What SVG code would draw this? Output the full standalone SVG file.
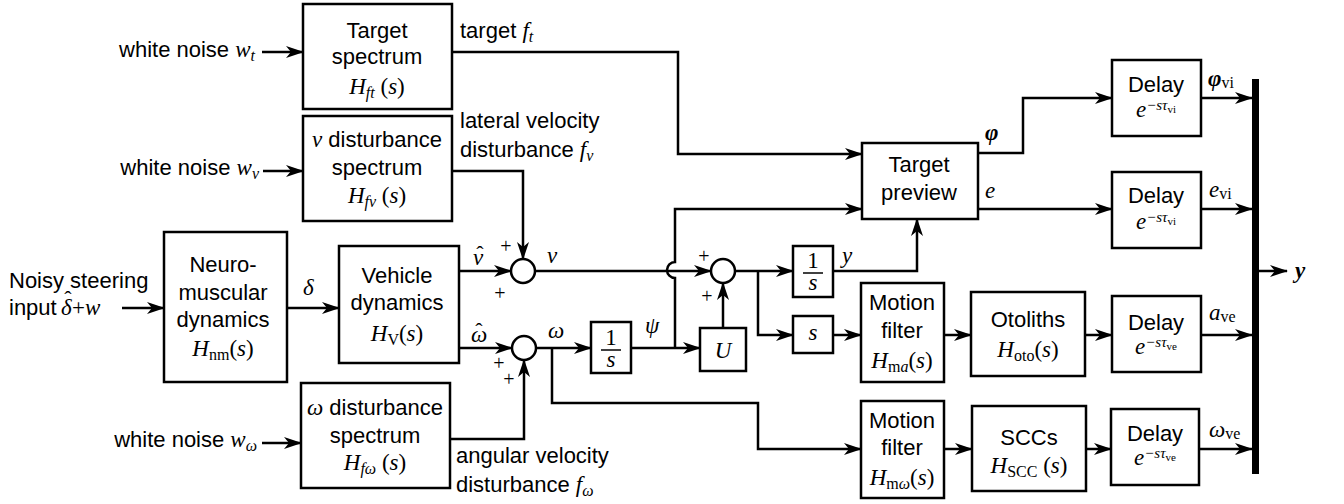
<svg xmlns="http://www.w3.org/2000/svg" width="1344" height="504" viewBox="0 0 1344 504">
<style>
.box{fill:#fff;stroke:#000;stroke-width:2.5}
.ln{fill:none;stroke:#000;stroke-width:2.5;marker-end:url(#ah)}
.pl{fill:none;stroke:#000;stroke-width:2.5}
.t{font-family:"Liberation Sans",Arial,sans-serif;font-size:22px;fill:#000}
.m{font-family:"Liberation Serif","Times New Roman",serif;font-size:23px;font-style:italic;fill:#000}
.r{font-style:normal}
.s{font-size:16px}
.sp{font-size:15px}
.ss{font-size:11px;font-style:normal}
.p{font-family:"Liberation Serif","Times New Roman",serif;font-size:20px;fill:#000}
.hat{font-family:"Liberation Serif","Times New Roman",serif;font-size:22px;fill:#000;text-anchor:middle}
.c{text-anchor:middle}
.b{font-weight:bold}
</style>
<defs>
<marker id="ah" viewBox="0 0 18 12" refX="17" refY="6" markerWidth="18" markerHeight="12" orient="auto" markerUnits="userSpaceOnUse">
<path d="M0,0 L18,6 L0,12 L5,6 z" fill="#000"/>
</marker>
</defs>

<g id="connectors">
<line class="ln" x1="262" y1="52" x2="303" y2="52"/>
<line class="ln" x1="263" y1="171" x2="303" y2="171"/>
<line class="ln" x1="122" y1="308" x2="164" y2="308"/>
<line class="ln" x1="262" y1="443" x2="301" y2="443"/>
<line class="ln" x1="287" y1="308" x2="339" y2="308"/>
<line class="ln" x1="459" y1="271" x2="511" y2="271"/>
<path class="ln" d="M452,171 H523 V259"/>
<line class="ln" x1="459" y1="348" x2="512" y2="348"/>
<path class="ln" d="M450,439 H524 V360"/>
<path class="ln" d="M535,271 H711"/>
<line class="ln" x1="536" y1="348" x2="591" y2="348"/>
<path class="ln" d="M552,348 V403 H758 V449 H861"/>
<line class="ln" x1="631" y1="348" x2="700" y2="348"/>
<path class="ln" d="M675,348 V278 A8,8 0 0 1 675,262 V209 H862"/>
<line class="ln" x1="723" y1="328" x2="723" y2="283"/>
<path class="ln" d="M452,52 H678 V154 H862"/>
<path class="ln" d="M735,271 H793"/>
<path class="ln" d="M758,271 V335 H793"/>
<path class="ln" d="M833,271 H917 V219"/>
<line class="ln" x1="833" y1="335" x2="861" y2="335"/>
<line class="ln" x1="944" y1="335" x2="971" y2="335"/>
<line class="ln" x1="1085" y1="335" x2="1112" y2="335"/>
<line class="ln" x1="1201" y1="335" x2="1252" y2="335"/>
<path class="ln" d="M978,153 H1023 V98 H1112"/>
<line class="ln" x1="978" y1="209" x2="1112" y2="209"/>
<line class="ln" x1="1201" y1="98" x2="1252" y2="98"/>
<line class="ln" x1="1201" y1="209" x2="1252" y2="209"/>
<line class="ln" x1="944" y1="449" x2="972" y2="449"/>
<line class="ln" x1="1086" y1="449" x2="1111" y2="449"/>
<line class="ln" x1="1199" y1="449" x2="1252" y2="449"/>
<line class="ln" x1="1259" y1="271" x2="1287" y2="271"/>
</g>

<g id="labels">
<text class="t" x="255" y="57" text-anchor="end">white noise <tspan class="m">w</tspan><tspan class="m s" dy="4">t</tspan></text>
<text class="t" x="259" y="175" text-anchor="end">white noise <tspan class="m">w</tspan><tspan class="m s" dy="4">v</tspan></text>
<text class="t" x="257" y="447" text-anchor="end">white noise <tspan class="m">w</tspan><tspan class="m s" dy="4">ω</tspan></text>
<text class="t" x="9" y="288">Noisy steering</text>
<text class="t" x="9" y="315">input<tspan class="m" x="61">δ</tspan><tspan class="m r" x="72">+</tspan><tspan class="m" x="85">w</tspan></text>
<text class="hat" x="68" y="306">ˆ</text>
<text class="t" x="460" y="38">target <tspan class="m">f</tspan><tspan class="m s" dy="4">t</tspan></text>
<text class="t" x="460" y="128">lateral velocity</text>
<text class="t" x="460" y="157">disturbance <tspan class="m">f</tspan><tspan class="m s" dy="4">v</tspan></text>
<text class="t" x="456" y="463">angular velocity</text>
<text class="t" x="456" y="492">disturbance <tspan class="m">f</tspan><tspan class="m s" dy="4">ω</tspan></text>
<text class="m" x="303" y="295">δ</text>
<text class="m" x="473" y="265">v</text>
<text class="hat" x="480" y="261">ˆ</text>
<text class="m" x="547" y="263">v</text>
<text class="m" x="471" y="342">ω</text>
<text class="hat" x="479" y="338">ˆ</text>
<text class="m" x="548" y="338">ω</text>
<text class="m" x="645" y="333">ψ</text>
<text class="m" x="842" y="263">y</text>
<text class="m b" x="985" y="140">φ</text>
<text class="m" x="985" y="198">e</text>
<text class="m" x="1208" y="86"><tspan class="b">φ</tspan><tspan class="s r" dy="2">vi</tspan></text>
<text class="m" x="1209" y="197">e<tspan class="s r" dy="2">vi</tspan></text>
<text class="m" x="1209" y="320">a<tspan class="s r" dy="2">ve</tspan></text>
<text class="m" x="1209" y="437">ω<tspan class="s r" dy="2">ve</tspan></text>
<text class="m b" x="1295" y="278">y</text>
<text class="p c" x="506" y="253">+</text>
<text class="p c" x="500" y="300">+</text>
<text class="p c" x="499" y="370">+</text>
<text class="p c" x="509" y="386">+</text>
<text class="p c" x="704" y="263">+</text>
<text class="p c" x="707" y="303">+</text>
</g>

<g id="target-spectrum">
<rect class="box" x="303" y="4" width="149" height="105"/>
<text class="t c" x="377" y="38">Target</text>
<text class="t c" x="377" y="64">spectrum</text>
<text class="m c" x="377" y="94">H<tspan class="s" dy="4">ft</tspan><tspan class="r" dy="-4"> (</tspan>s<tspan class="r">)</tspan></text>
</g>

<g id="v-disturbance-spectrum">
<rect class="box" x="303" y="116" width="149" height="105"/>
<text class="t c" x="377" y="147"><tspan class="m">v</tspan> disturbance</text>
<text class="t c" x="377" y="175">spectrum</text>
<text class="m c" x="377" y="203">H<tspan class="s" dy="4">fv</tspan><tspan class="r" dy="-4"> (</tspan>s<tspan class="r">)</tspan></text>
</g>

<g id="omega-disturbance-spectrum">
<rect class="box" x="301" y="383" width="149" height="105"/>
<text class="t c" x="375" y="415"><tspan class="m">ω</tspan> disturbance</text>
<text class="t c" x="375" y="443">spectrum</text>
<text class="m c" x="375" y="470">H<tspan class="s" dy="4">fω</tspan><tspan class="r" dy="-4"> (</tspan>s<tspan class="r">)</tspan></text>
</g>

<g id="neuromuscular">
<rect class="box" x="164" y="232" width="123" height="150"/>
<text class="t c" x="223" y="272">Neuro-</text>
<text class="t c" x="223" y="300">muscular</text>
<text class="t c" x="223" y="327">dynamics</text>
<text class="m c" x="223" y="356">H<tspan class="s r" dy="4">nm</tspan><tspan class="r" dy="-4">(</tspan>s<tspan class="r">)</tspan></text>
</g>

<g id="vehicle-dynamics">
<rect class="box" x="339" y="246" width="120" height="117"/>
<text class="t c" x="397" y="283">Vehicle</text>
<text class="t c" x="397" y="310">dynamics</text>
<text class="m c" x="397" y="341">H<tspan class="s r" dy="4">V</tspan><tspan class="r" dy="-4">(</tspan>s<tspan class="r">)</tspan></text>
</g>

<g id="sum-v"><circle class="pl" cx="523" cy="271" r="12" fill="#fff"/></g>
<g id="sum-omega"><circle class="pl" cx="524" cy="348" r="12" fill="#fff"/></g>
<g id="sum-y"><circle class="pl" cx="723" cy="271" r="12" fill="#fff"/></g>

<g id="integrator-psi">
<rect class="box" x="591" y="322" width="40" height="51"/>
<text class="m c r" x="611" y="345">1</text>
<line x1="601" y1="350" x2="621" y2="350" stroke="#000" stroke-width="1.5"/>
<text class="m c" x="611" y="367">s</text>
</g>

<g id="gain-U">
<rect class="box" x="700" y="328" width="46" height="43"/>
<text class="m c" x="723" y="358">U</text>
</g>

<g id="integrator-y">
<rect class="box" x="793" y="246" width="40" height="51"/>
<text class="m c r" x="813" y="268">1</text>
<line x1="803" y1="273" x2="823" y2="273" stroke="#000" stroke-width="1.5"/>
<text class="m c" x="813" y="290">s</text>
</g>

<g id="differentiator">
<rect class="box" x="793" y="316" width="40" height="37"/>
<text class="m c" x="813" y="340">s</text>
</g>

<g id="target-preview">
<rect class="box" x="862" y="143" width="116" height="76"/>
<text class="t c" x="919" y="172">Target</text>
<text class="t c" x="919" y="200">preview</text>
</g>

<g id="delay-phi">
<rect class="box" x="1112" y="60" width="89" height="76"/>
<text class="t c" x="1156" y="92">Delay</text>
<text class="m c" x="1156" y="117">e<tspan class="sp" dy="-7">−sτ</tspan><tspan class="ss" dy="3">vi</tspan></text>
</g>

<g id="delay-e">
<rect class="box" x="1112" y="172" width="89" height="76"/>
<text class="t c" x="1156" y="203">Delay</text>
<text class="m c" x="1156" y="229">e<tspan class="sp" dy="-7">−sτ</tspan><tspan class="ss" dy="3">vi</tspan></text>
</g>

<g id="motion-filter-a">
<rect class="box" x="861" y="283" width="83" height="99"/>
<text class="t c" x="902" y="310">Motion</text>
<text class="t c" x="902" y="338">filter</text>
<text class="m c" x="902" y="368">H<tspan class="s r" dy="4">m</tspan><tspan class="s">a</tspan><tspan class="r" dy="-4">(</tspan>s<tspan class="r">)</tspan></text>
</g>

<g id="otoliths">
<rect class="box" x="971" y="292" width="114" height="84"/>
<text class="t c" x="1028" y="327">Otoliths</text>
<text class="m c" x="1028" y="357">H<tspan class="s r" dy="4">oto</tspan><tspan class="r" dy="-4">(</tspan>s<tspan class="r">)</tspan></text>
</g>

<g id="delay-a">
<rect class="box" x="1112" y="296" width="89" height="76"/>
<text class="t c" x="1156" y="330">Delay</text>
<text class="m c" x="1156" y="354">e<tspan class="sp" dy="-7">−sτ</tspan><tspan class="ss" dy="3">ve</tspan></text>
</g>

<g id="motion-filter-omega">
<rect class="box" x="861" y="401" width="83" height="97"/>
<text class="t c" x="902" y="428">Motion</text>
<text class="t c" x="902" y="455">filter</text>
<text class="m c" x="902" y="485">H<tspan class="s r" dy="4">m</tspan><tspan class="s">ω</tspan><tspan class="r" dy="-4">(</tspan>s<tspan class="r">)</tspan></text>
</g>

<g id="sccs">
<rect class="box" x="972" y="406" width="114" height="85"/>
<text class="t c" x="1029" y="445">SCCs</text>
<text class="m c" x="1029" y="473">H<tspan class="s r" dy="4">SCC</tspan><tspan class="r" dy="-4"> (</tspan>s<tspan class="r">)</tspan></text>
</g>

<g id="delay-omega">
<rect class="box" x="1111" y="409" width="88" height="76"/>
<text class="t c" x="1155" y="441">Delay</text>
<text class="m c" x="1155" y="465">e<tspan class="sp" dy="-7">−sτ</tspan><tspan class="ss" dy="3">ve</tspan></text>
</g>

<g id="mux-bar">
<rect x="1252" y="79" width="7" height="395" fill="#000"/>
</g>
</svg>
